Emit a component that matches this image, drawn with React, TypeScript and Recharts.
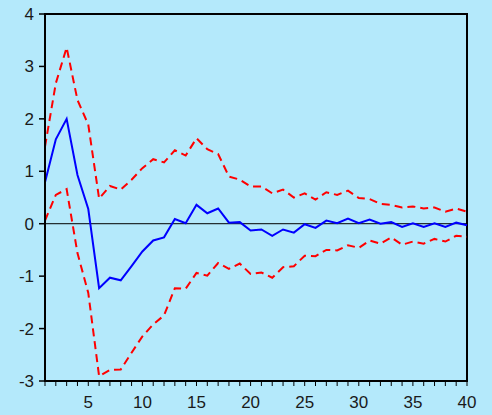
import React from "react";
import {
  LineChart,
  Line,
  XAxis,
  YAxis,
  ReferenceLine,
  ReferenceArea,
} from "recharts";

const lags = [
  1, 2, 3, 4, 5, 6, 7, 8, 9, 10, 11, 12, 13, 14, 15, 16, 17, 18, 19, 20,
  21, 22, 23, 24, 25, 26, 27, 28, 29, 30, 31, 32, 33, 34, 35, 36, 37, 38, 39, 40,
];

const response = [
  0.79, 1.61, 2.0, 0.93, 0.28, -1.23, -1.03, -1.08, -0.81, -0.53,
  -0.32, -0.26, 0.09, 0.01, 0.36, 0.2, 0.29, 0.02, 0.03, -0.13,
  -0.11, -0.23, -0.11, -0.17, -0.01, -0.08, 0.06, 0.01, 0.1, 0.01,
  0.08, 0.0, 0.03, -0.06, 0.01, -0.06, 0.01, -0.06, 0.02, -0.03,
];

const upper = [
  1.47, 2.68, 3.36, 2.36, 1.89, 0.48, 0.72, 0.65, 0.84, 1.06,
  1.23, 1.17, 1.4, 1.3, 1.63, 1.42, 1.33, 0.9, 0.84, 0.71,
  0.71, 0.58, 0.65, 0.5, 0.58, 0.46, 0.6, 0.55, 0.63, 0.49,
  0.47, 0.38, 0.36, 0.31, 0.33, 0.29, 0.31, 0.23, 0.29, 0.23,
];

const lower = [
  0.06, 0.55, 0.66, -0.56, -1.32, -2.91, -2.79, -2.78, -2.46, -2.15,
  -1.92, -1.75, -1.23, -1.24, -0.94, -0.99, -0.75, -0.86, -0.76, -0.96,
  -0.93, -1.03, -0.83, -0.81, -0.61, -0.62, -0.5, -0.51, -0.41, -0.46,
  -0.32, -0.38, -0.26, -0.4, -0.34, -0.38, -0.29, -0.34, -0.23, -0.25,
];

const xLabels = [5, 10, 15, 20, 25, 30, 35, 40];
const yTicks = [-3, -2, -1, 0, 1, 2, 3, 4];

const data = lags.map((lag, i) => ({
  lag,
  response: response[i],
  upper: upper[i],
  lower: lower[i],
}));

const font = "'Liberation Sans', Arial, sans-serif";

const XTick = (props: any) => {
  const { x, y, payload } = props;
  if (!xLabels.includes(payload.value)) return null;
  return (
    <text
      x={x}
      y={y}
      dy="0.71em"
      textAnchor="middle"
      fill="#1a1a1a"
      fontSize={17}
      fontFamily={font}
    >
      {payload.value}
    </text>
  );
};

export default function App() {
  return (
    <div
      style={{
        position: "absolute",
        left: 0,
        top: 0,
        width: 492,
        height: 415,
        background: "#b4e9fb",
      }}
    >
      <LineChart
        width={492}
        height={415}
        data={data}
        margin={{ top: 14, right: 25, bottom: 0, left: 0 }}
      >
        <XAxis
          dataKey="lag"
          type="number"
          domain={[1, 40]}
          ticks={lags}
          interval={0}
          height={34}
          tickSize={5}
          tickMargin={10}
          tick={<XTick />}
          axisLine={{ stroke: "#000", strokeWidth: 2 }}
          tickLine={{ stroke: "#000", strokeWidth: 1 }}
        />
        <YAxis
          type="number"
          domain={[-3, 4]}
          ticks={yTicks}
          interval={0}
          width={45}
          tickSize={6}
          tickMargin={5}
          tick={{ fill: "#1a1a1a", fontSize: 17, fontFamily: font }}
          axisLine={{ stroke: "#000", strokeWidth: 2 }}
          tickLine={{ stroke: "#000", strokeWidth: 1.5 }}
        />
        <ReferenceArea
          x1={1}
          x2={40}
          y1={-3}
          y2={4}
          fill="none"
          stroke="#000"
          strokeWidth={2}
          ifOverflow="visible"
        />
        <ReferenceLine y={0} stroke="#000" strokeWidth={1} />
        <Line
          type="linear"
          dataKey="upper"
          stroke="#ff0000"
          strokeWidth={2}
          strokeDasharray="8 5"
          dot={false}
          isAnimationActive={false}
        />
        <Line
          type="linear"
          dataKey="lower"
          stroke="#ff0000"
          strokeWidth={2}
          strokeDasharray="8 5"
          dot={false}
          isAnimationActive={false}
        />
        <Line
          type="linear"
          dataKey="response"
          stroke="#0000ff"
          strokeWidth={2}
          dot={false}
          isAnimationActive={false}
        />
      </LineChart>
    </div>
  );
}
